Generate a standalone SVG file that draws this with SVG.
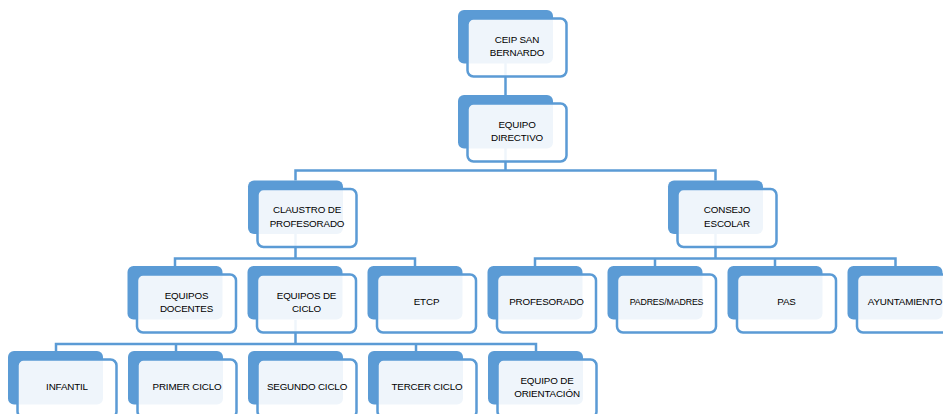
<svg xmlns="http://www.w3.org/2000/svg" width="943" height="414" viewBox="0 0 943 414">
<style>
.bk{fill:#5b9bd5;}
.fr{fill:#ffffff;fill-opacity:0.9;stroke:#5b9bd5;stroke-width:2.5;}
.ln{fill:none;stroke:#5b9bd5;stroke-width:2.5;}
text{font-family:"Liberation Sans",Arial,sans-serif;font-size:9.8px;letter-spacing:-0.15px;fill:#000000;text-anchor:middle;}
.sm{font-size:8.8px;}
</style>
<rect width="943" height="414" fill="#ffffff"/>
<g id="connectors">
<path class="ln" d="M505.5 63 V95"/>
<path class="ln" d="M505.5 148 V170.5 M295.5 180.5 V170.5 H715.5 V180.5"/>
<path class="ln" d="M295.5 234 V258.5 M175 266 V258.5 H415 V266"/>
<path class="ln" d="M715.5 234 V258.5 M535 266 V258.5 H895.5 V266 M655 258.5 V266 M775 258.5 V266"/>
<path class="ln" d="M295.5 320 V344 M56 351 V344 H536 V351 M176 344 V351 M416 344 V351"/>
</g>
<g id="ceip"><rect class="bk" x="458" y="10" width="95" height="53.5" rx="6"/><rect class="fr" x="467.5" y="18.5" width="99" height="58" rx="6"/><text x="517" y="42.5">CEIP SAN</text><text x="517" y="56">BERNARDO</text></g>
<g id="directivo"><rect class="bk" x="458" y="95" width="95" height="53.5" rx="6"/><rect class="fr" x="467.5" y="103.5" width="99" height="58" rx="6"/><text x="517" y="127.5">EQUIPO</text><text x="517" y="141">DIRECTIVO</text></g>
<g id="claustro"><rect class="bk" x="248" y="180.5" width="95" height="53.5" rx="6"/><rect class="fr" x="257.5" y="189" width="99" height="58" rx="6"/><text x="307" y="213">CLAUSTRO DE</text><text x="307" y="226.5">PROFESORADO</text></g>
<g id="consejo"><rect class="bk" x="668" y="180.5" width="95" height="53.5" rx="6"/><rect class="fr" x="677.5" y="189" width="99" height="58" rx="6"/><text x="727" y="213">CONSEJO</text><text x="727" y="226.5">ESCOLAR</text></g>
<g id="docentes"><rect class="bk" x="127.5" y="266" width="95" height="53.5" rx="6"/><rect class="fr" x="137" y="274.5" width="99" height="58" rx="6"/><text x="186.5" y="298.5">EQUIPOS</text><text x="186.5" y="312">DOCENTES</text></g>
<g id="ciclo"><rect class="bk" x="247.5" y="266" width="95" height="53.5" rx="6"/><rect class="fr" x="257" y="274.5" width="99" height="58" rx="6"/><text x="306.5" y="298.5">EQUIPOS DE</text><text x="306.5" y="312">CICLO</text></g>
<g id="etcp"><rect class="bk" x="367.5" y="266" width="95" height="53.5" rx="6"/><rect class="fr" x="377" y="274.5" width="99" height="58" rx="6"/><text x="426.5" y="305">ETCP</text></g>
<g id="profesorado"><rect class="bk" x="487.5" y="266" width="95" height="53.5" rx="6"/><rect class="fr" x="497" y="274.5" width="99" height="58" rx="6"/><text x="546.5" y="305">PROFESORADO</text></g>
<g id="padres"><rect class="bk" x="607.5" y="266" width="95" height="53.5" rx="6"/><rect class="fr" x="617" y="274.5" width="99" height="58" rx="6"/><text class="sm" x="666.5" y="304.5">PADRES/MADRES</text></g>
<g id="pas"><rect class="bk" x="727.5" y="266" width="95" height="53.5" rx="6"/><rect class="fr" x="737" y="274.5" width="99" height="58" rx="6"/><text x="786.5" y="305">PAS</text></g>
<g id="ayuntamiento"><rect class="bk" x="847.5" y="266" width="95" height="53.5" rx="6"/><rect class="fr" x="857" y="274.5" width="99" height="58" rx="6"/><text x="905" y="305">AYUNTAMIENTO</text></g>
<g id="infantil"><rect class="bk" x="8" y="351" width="95" height="53.5" rx="6"/><rect class="fr" x="17.5" y="359.5" width="99" height="58" rx="6"/><text x="67" y="390">INFANTIL</text></g>
<g id="primer"><rect class="bk" x="128" y="351" width="95" height="53.5" rx="6"/><rect class="fr" x="137.5" y="359.5" width="99" height="58" rx="6"/><text x="187" y="390">PRIMER CICLO</text></g>
<g id="segundo"><rect class="bk" x="248" y="351" width="95" height="53.5" rx="6"/><rect class="fr" x="257.5" y="359.5" width="99" height="58" rx="6"/><text x="307" y="390">SEGUNDO CICLO</text></g>
<g id="tercer"><rect class="bk" x="368" y="351" width="95" height="53.5" rx="6"/><rect class="fr" x="377.5" y="359.5" width="99" height="58" rx="6"/><text x="427" y="390">TERCER CICLO</text></g>
<g id="orientacion"><rect class="bk" x="488" y="351" width="95" height="53.5" rx="6"/><rect class="fr" x="497.5" y="359.5" width="99" height="58" rx="6"/><text x="547" y="383.5">EQUIPO DE</text><text x="547" y="397">ORIENTACIÓN</text></g>
</svg>
